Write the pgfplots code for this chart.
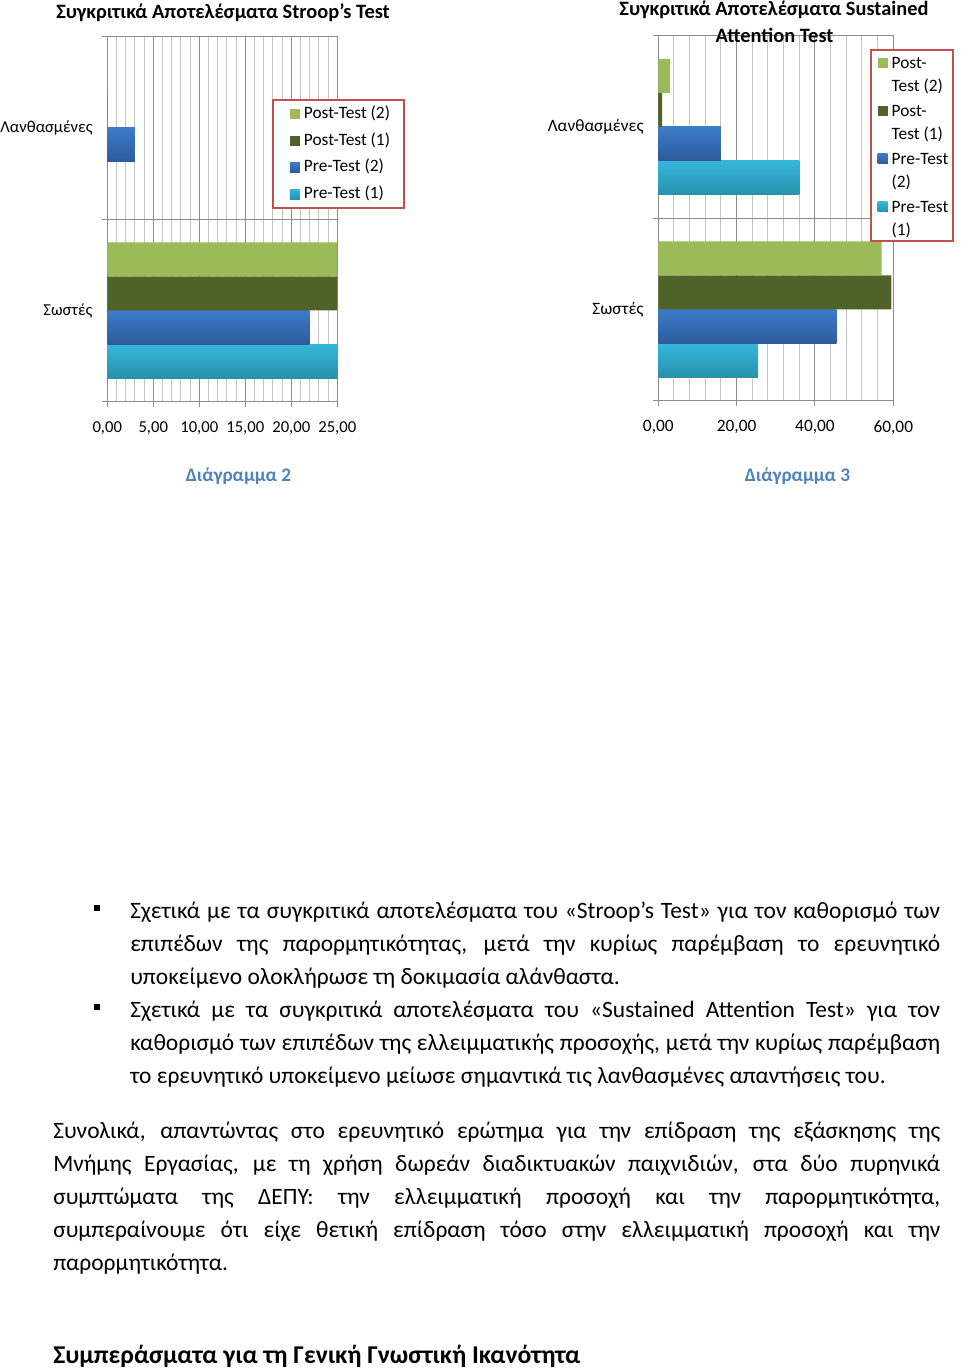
\documentclass[border=0pt]{standalone}
\usepackage{fontspec}
\setmainfont{Carlito}
\usepackage{pgfplots}
\pgfplotsset{compat=1.18}
\definecolor{ptwo}{HTML}{9BBB59}
\definecolor{pone}{HTML}{4F6228}
\definecolor{prtwoT}{HTML}{3C7BCB}
\definecolor{prtwoB}{HTML}{2C5B9B}
\definecolor{proneT}{HTML}{35B6DA}
\definecolor{proneB}{HTML}{2891AC}
\definecolor{legred}{HTML}{C0504D}
\definecolor{capblue}{HTML}{4F81BD}
\definecolor{gmaj}{HTML}{8C8C8C}
\definecolor{gmin}{HTML}{C4C4C4}
\newcommand{\bodyfont}{\fontsize{17.6}{20}\selectfont}
\newcommand{\jline}[4]{\node[anchor=base west, inner sep=0pt, font=\bodyfont] at (#1,#2) {\makebox[#3][s]{#4}};}
\newcommand{\pline}[3]{\node[anchor=base west, inner sep=0pt, font=\bodyfont] at (#1,#2) {#3};}
\newcommand{\two}[2]{\begin{tabular}[c]{@{}l@{}}#1\\#2\end{tabular}}
\pgfplotsset{
 mybar/.style={
   xbar, scale only axis, height=273.75pt, enlargelimits=false,
   ymin=-0.5, ymax=1.5, ytick={-0.5,0.5,1.5}, yticklabels={},
   extra y ticks={0,1}, extra y tick labels={Σωστές,Λανθασμένες},
   extra y tick style={grid=none, major tick length=0pt},
   yticklabel style={xshift=-7.5pt},
   xmin=0, grid=both,
   major grid style={draw=gmaj, line width=0.75pt},
   minor grid style={draw=gmin, line width=0.75pt},
   axis line style={draw=gmaj, line width=0.75pt},
   tick align=outside, tick pos=left, major tick length=3.75pt, minor tick length=0pt,
   tick style={draw=gmaj, line width=0.75pt},
   xticklabel style={yshift=-7.5pt},
   bar width=0.1863,
   reverse legend,
   legend cell align=left,
 },
 legtwo/.style={legend image code/.code={\fill[##1] (2.5pt,-0.4pt) rectangle (10pt,7.1pt); \path (12pt,0pt);}},
 legtwolast/.style={legend image code/.code={\fill[##1] (2.5pt,-0.4pt) rectangle (10pt,7.1pt); \path (12pt,0pt) (0pt,-20pt);}},
 legone/.style={legend image code/.code={\path (0pt,0pt); \fill[##1] (5.25pt,-3.75pt) rectangle (12.75pt,3.75pt);}},
}
\begin{document}
\begin{tikzpicture}
\useasboundingbox (0pt,0pt) rectangle (720pt,-1027.5pt);
% ---------- Chart 1 ----------
\begin{axis}[mybar, legone, at={(80.475pt,-301.275pt)}, anchor=south west, width=172.5pt,
  xmax=25, xtick={0,5,10,15,20,25},
  xticklabels={{0,00},{5,00},{10,00},{15,00},{20,00},{25,00}},
  minor x tick num=4,
  tick label style={font=\fontsize{12.5}{15}\selectfont, text=black},
  legend style={at={(0.716,0.829)}, anchor=north west,
     draw=legred, line width=1.5pt, fill=white,
     font=\fontsize{13}{15.6}\selectfont, inner xsep=7.5pt, inner ysep=0.5pt, row sep=0pt,
     nodes={inner xsep=3pt, inner ysep=3.75pt, text height=9.5pt, text depth=3pt}}]
\addplot[draw=none, top color=proneT, bottom color=proneB, bar shift=-0.2795] coordinates {(25,0)};
\addlegendentry{Pre-Test (1)}
\addplot[draw=none, top color=prtwoT, bottom color=prtwoB, bar shift=-0.0932] coordinates {(22,0)};
\addlegendentry{Pre-Test (2)}
\addplot[draw=none, top color=prtwoT, bottom color=prtwoB, bar shift=-0.0932, forget plot] coordinates {(3,1)};
\addplot[draw=none, fill=pone, bar shift=0.0932] coordinates {(25,0) (0,1)};
\addlegendentry{Post-Test (1)}
\addplot[draw=none, fill=ptwo, bar shift=0.2795] coordinates {(25,0) (0,1)};
\addlegendentry{Post-Test (2)}
\end{axis}
% ---------- Chart 2 ----------
\begin{axis}[mybar, legtwo, at={(493.725pt,-300.525pt)}, anchor=south west, width=176.25pt,
  xmax=60, xtick={0,20,40,60},
  xticklabels={{0,00},{20,00},{40,00},{60,00}},
  minor x tick num=4,
  tick label style={font=\fontsize{13}{15.6}\selectfont, text=black},
  legend style={at={(0.901,0.963)}, anchor=north west,
     draw=legred, line width=1.5pt, fill=white,
     font=\fontsize{13}{17.25}\selectfont, inner xsep=2.5pt, inner ysep=2pt, row sep=14.25pt,
     nodes={inner xsep=1pt, inner ysep=0pt}}]
\addplot[draw=none, top color=proneT, bottom color=proneB, bar shift=-0.2795, legtwolast] coordinates {(25.5,0)};
\addlegendentry{\two{Pre-Test}{(1)}}
\addplot[draw=none, top color=proneT, bottom color=proneB, bar shift=-0.2795, forget plot] coordinates {(36,1)};
\addplot[draw=none, top color=prtwoT, bottom color=prtwoB, bar shift=-0.0932] coordinates {(45.5,0)};
\addlegendentry{\two{Pre-Test}{(2)}}
\addplot[draw=none, top color=prtwoT, bottom color=prtwoB, bar shift=-0.0932, forget plot] coordinates {(16,1)};
\addplot[draw=none, fill=pone, bar shift=0.0932] coordinates {(59.5,0) (1,1)};
\addlegendentry{\two{Post-}{Test (1)}}
\addplot[draw=none, fill=ptwo, bar shift=0.2795] coordinates {(57,0) (3,1)};
\addlegendentry{\two{Post-}{Test (2)}}
\end{axis}
\begin{scope}[x=0.75pt,y=-0.75pt]
% ---------- titles ----------
\node[anchor=base, inner sep=0pt, font=\fontsize{15.3}{18}\selectfont\bfseries] at (223,18.5) {Συγκριτικά Αποτελέσματα  Stroop’s Test};
\node[anchor=base, inner sep=0pt, font=\fontsize{15.3}{18}\selectfont\bfseries] at (774,15.5) {Συγκριτικά Αποτελέσματα  Sustained};
\node[anchor=base, inner sep=0pt, font=\fontsize{15.3}{18}\selectfont\bfseries] at (774.5,42.5) {Attention Test};
% ---------- captions ----------
\node[anchor=base, inner sep=0pt, font=\fontsize{14.45}{16}\selectfont\bfseries, text=capblue] at (238.5,481) {Διάγραμμα 2};
\node[anchor=base, inner sep=0pt, font=\fontsize{14.45}{16}\selectfont\bfseries, text=capblue] at (797.5,481) {Διάγραμμα 3};
% ---------- bullets ----------
\fill (94,905) rectangle (100,911);
\fill (94,1004) rectangle (100,1010);
\jline{130}{918}{607.5pt}{Σχετικά με τα συγκριτικά αποτελέσματα του «Stroop’s Test» για τον καθορισμό των}
\jline{130}{951}{607.5pt}{επιπέδων της παρορμητικότητας, μετά την κυρίως παρέμβαση το ερευνητικό}
\pline{130}{984}{υποκείμενο ολοκλήρωσε τη δοκιμασία αλάνθαστα.}
\jline{130}{1017}{607.5pt}{Σχετικά με τα συγκριτικά αποτελέσματα του «Sustained Attention Test» για τον}
\jline{130}{1050}{607.5pt}{καθορισμό των επιπέδων της ελλειμματικής προσοχής, μετά την κυρίως παρέμβαση}
\pline{130}{1083}{το ερευνητικό υποκείμενο μείωσε σημαντικά τις λανθασμένες απαντήσεις του.}
% ---------- paragraph ----------
\jline{53}{1138}{665.25pt}{Συνολικά, απαντώντας στο ερευνητικό ερώτημα για την επίδραση της εξάσκησης της}
\jline{53}{1171}{665.25pt}{Μνήμης Εργασίας, με τη χρήση δωρεάν διαδικτυακών παιχνιδιών, στα δύο πυρηνικά}
\jline{53}{1204}{665.25pt}{συμπτώματα της ΔΕΠΥ: την ελλειμματική προσοχή και την παρορμητικότητα,}
\jline{53}{1237}{665.25pt}{συμπεραίνουμε ότι είχε θετική επίδραση τόσο στην ελλειμματική προσοχή και την}
\pline{53}{1270}{παρορμητικότητα.}
% ---------- heading ----------
\node[anchor=base west, inner sep=0pt, font=\fontsize{19.25}{22}\selectfont\bfseries] at (53,1363) {Συμπεράσματα για τη Γενική Γνωστική Ικανότητα};
\end{scope}
\end{tikzpicture}
\end{document}
